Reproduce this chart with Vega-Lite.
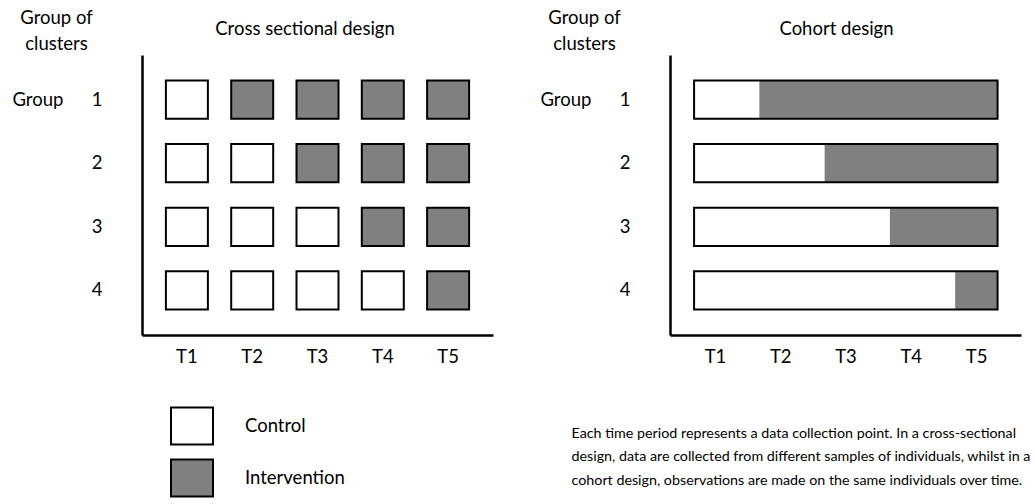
{
  "$schema": "https://vega.github.io/schema/vega-lite/v6.json",
  "padding": {"left": 11, "top": 8, "right": 0, "bottom": 0},
  "background": "white",
  "config": {
    "view": {"stroke": null},
    "font": "Lato",
    "axis": {
      "domainColor": "black",
      "domainWidth": 2.5,
      "ticks": false,
      "grid": false,
      "labelColor": "black",
      "labelFontSize": 18.5,
      "labelFont": "Lato",
      "titleColor": "black",
      "titleFont": "Lato",
      "titleFontSize": 18.5,
      "titleFontWeight": "normal"
    }
  },
  "datasets": {
    "cross": [
      {"group": 1, "period": "T1", "status": "Control"},
      {"group": 1, "period": "T2", "status": "Intervention"},
      {"group": 1, "period": "T3", "status": "Intervention"},
      {"group": 1, "period": "T4", "status": "Intervention"},
      {"group": 1, "period": "T5", "status": "Intervention"},
      {"group": 2, "period": "T1", "status": "Control"},
      {"group": 2, "period": "T2", "status": "Control"},
      {"group": 2, "period": "T3", "status": "Intervention"},
      {"group": 2, "period": "T4", "status": "Intervention"},
      {"group": 2, "period": "T5", "status": "Intervention"},
      {"group": 3, "period": "T1", "status": "Control"},
      {"group": 3, "period": "T2", "status": "Control"},
      {"group": 3, "period": "T3", "status": "Control"},
      {"group": 3, "period": "T4", "status": "Intervention"},
      {"group": 3, "period": "T5", "status": "Intervention"},
      {"group": 4, "period": "T1", "status": "Control"},
      {"group": 4, "period": "T2", "status": "Control"},
      {"group": 4, "period": "T3", "status": "Control"},
      {"group": 4, "period": "T4", "status": "Control"},
      {"group": 4, "period": "T5", "status": "Intervention"}
    ],
    "cohort": [
      {"group": 1, "status": "Control", "from": 0.68, "to": 1.68},
      {"group": 1, "status": "Intervention", "from": 1.68, "to": 5.33},
      {"group": 2, "status": "Control", "from": 0.68, "to": 2.68},
      {"group": 2, "status": "Intervention", "from": 2.68, "to": 5.33},
      {"group": 3, "status": "Control", "from": 0.68, "to": 3.68},
      {"group": 3, "status": "Intervention", "from": 3.68, "to": 5.33},
      {"group": 4, "status": "Control", "from": 0.68, "to": 4.68},
      {"group": 4, "status": "Intervention", "from": 4.68, "to": 5.33}
    ]
  },
  "spacing": 46,
  "hconcat": [
    {
      "width": 351,
      "height": 280,
      "data": {"name": "cross"},
      "resolve": {"axis": {"x": "independent"}},
      "encoding": {
        "y": {
          "field": "group", "type": "ordinal",
          "scale": {"paddingInner": 0.4, "paddingOuter": 0.4},
          "axis": {
            "orient": "left",
            "labelPadding": 40,
            "labelExpr": "datum.label == '1' ? 'Group\u00a0\u00a0\u00a0\u00a0\u00a0\u00a01' : datum.label",
            "title": ["Group of", "clusters"],
            "titleAngle": 0,
            "titleAlign": "center",
            "titleBaseline": "alphabetic",
            "titleX": -86,
            "titleY": -32,
            "titleLineHeight": 26
          }
        }
      },
      "layer": [
        {
          "mark": {"type": "rect", "strokeWidth": 0},
          "encoding": {
            "x": {
              "field": "period", "type": "ordinal",
              "scale": {"paddingInner": 0.357, "paddingOuter": 0.366},
              "axis": {"orient": "bottom", "title": null, "labelAngle": 0, "labelPadding": 12}
            },
            "fill": {
              "field": "status", "type": "nominal",
              "scale": {"domain": ["Control", "Intervention"], "range": ["white", "#808080"]},
              "legend": {
                "orient": "none",
                "legendX": 29,
                "legendY": 350,
                "title": null,
                "direction": "vertical",
                "symbolType": "M-1.05,-0.93H1.05V0.93H-1.05Z",
                "symbolSize": 1600,
                "symbolStrokeColor": "black",
                "symbolStrokeWidth": 2,
                "labelFontSize": 18.5,
                "labelFont": "Lato",
                "labelColor": "black",
                "labelOffset": 32,
                "rowPadding": 6
              }
            }
          }
        },
        {
          "mark": {"type": "rect", "fill": null, "stroke": "black", "strokeWidth": 2},
          "encoding": {
            "x": {
              "field": "period", "type": "ordinal",
              "axis": {
                "orient": "top", "domain": false, "labels": false, "ticks": false,
                "title": "Cross sectional design",
                "titleAngle": 0, "titleAlign": "center", "titleBaseline": "alphabetic",
                "titleX": 162.5, "titleY": -21
              }
            }
          }
        }
      ]
    },
    {
      "width": 351,
      "height": 280,
      "data": {"name": "cohort"},
      "resolve": {"axis": {"x": "independent"}},
      "encoding": {
        "y": {
          "field": "group", "type": "ordinal",
          "scale": {"paddingInner": 0.4, "paddingOuter": 0.4},
          "axis": {
            "orient": "left",
            "labelPadding": 40,
            "labelExpr": "datum.label == '1' ? 'Group\u00a0\u00a0\u00a0\u00a0\u00a0\u00a01' : datum.label",
            "title": ["Group of", "clusters"],
            "titleAngle": 0,
            "titleAlign": "center",
            "titleBaseline": "alphabetic",
            "titleX": -86,
            "titleY": -32,
            "titleLineHeight": 26
          }
        },
        "x2": {"field": "to"}
      },
      "layer": [
        {
          "mark": {"type": "rect", "strokeWidth": 0},
          "encoding": {
            "x": {
              "field": "from", "type": "quantitative",
              "scale": {"domain": [0.311, 5.689], "nice": false, "zero": false},
              "axis": {
                "orient": "bottom",
                "values": [1, 2, 3, 4, 5],
                "labelExpr": "'T' + datum.value",
                "labelPadding": 12,
                "labelFlush": false,
                "labelOverlap": false,
                "title": ["Each time period represents a data collection point. In a cross-sectional", "design, data are collected from different samples of individuals, whilst in a", "cohort design, observations are made on the same individuals over time."],
                "titleAngle": 0,
                "titleAlign": "left",
                "titleAnchor": "start",
                "titleBaseline": "alphabetic",
                "titleX": -99,
                "titleY": 102,
                "titleFontSize": 14.3,
                "titleLineHeight": 23.7
              }
            },
            "fill": {"field": "status", "type": "nominal", "scale": {"domain": ["Control", "Intervention"], "range": ["white", "#808080"]}}
          }
        },
        {
          "transform": [{"aggregate": [{"op": "min", "field": "from", "as": "from"}, {"op": "max", "field": "to", "as": "to"}], "groupby": ["group"]}],
          "mark": {"type": "rect", "fill": null, "stroke": "black", "strokeWidth": 2},
          "encoding": {
            "x": {
              "field": "from", "type": "quantitative",
              "axis": {
                "orient": "top", "domain": false, "labels": false, "ticks": false,
                "title": "Cohort design",
                "titleAngle": 0, "titleAlign": "center", "titleBaseline": "alphabetic",
                "titleX": 166, "titleY": -21
              }
            }
          }
        }
      ]
    }
  ]
}
